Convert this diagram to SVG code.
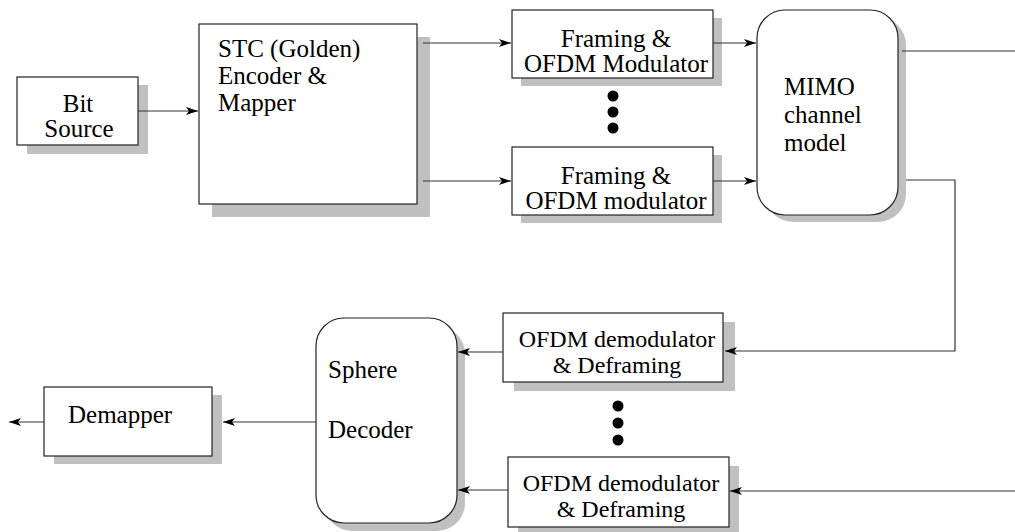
<svg xmlns="http://www.w3.org/2000/svg" width="1015" height="532" viewBox="0 0 1015 532">
<style>
.box{fill:#fff;stroke:#222;stroke-width:1.2}
.sh{fill:#c0c0c0;stroke:none}
text{font-family:'Liberation Serif','Times New Roman','DejaVu Serif',serif;font-size:25px;fill:#000}
.c{text-anchor:middle}
.s{font-size:24px}
.ln{fill:none;stroke:#333;stroke-width:1.2}
.dot{fill:#000}
</style>
<defs>
<marker id="ah" viewBox="0 0 12 8" refX="12" refY="4" markerWidth="12" markerHeight="8" markerUnits="userSpaceOnUse" orient="auto">
<path d="M0,0 L12,4 L0,8 L3,4 z" fill="#000"/>
</marker>
</defs>
<rect width="1015" height="532" fill="#fff"/>

<g id="bit-source">
<rect class="sh" x="27" y="85" width="121" height="69"/>
<rect class="box" x="17" y="77" width="121" height="68"/>
<text class="c" x="78" y="112">Bit</text>
<text class="c" x="79" y="137">Source</text>
</g>

<g id="stc-encoder">
<rect class="sh" x="212" y="37" width="218" height="180"/>
<rect class="box" x="199" y="24" width="218" height="180"/>
<text x="218" y="57">STC (Golden)</text>
<text x="218" y="84">Encoder &amp;</text>
<text x="218" y="111">Mapper</text>
</g>

<g id="framing-1">
<rect class="sh" x="521" y="18" width="201" height="68"/>
<rect class="box" x="512" y="10" width="201" height="68"/>
<text class="c" x="616" y="47">Framing &amp;</text>
<text class="c" x="616" y="72">OFDM Modulator</text>
</g>

<g id="tx-dots">
<circle class="dot" cx="613" cy="96" r="5.5"/>
<circle class="dot" cx="613" cy="112" r="5.5"/>
<circle class="dot" cx="613" cy="128" r="5.5"/>
</g>

<g id="framing-2">
<rect class="sh" x="521" y="155" width="201" height="68"/>
<rect class="box" x="512" y="147" width="201" height="68"/>
<text class="c" x="616" y="184">Framing &amp;</text>
<text class="c" x="616" y="209">OFDM modulator</text>
</g>

<g id="mimo-channel">
<rect class="sh" x="765" y="17" width="141" height="205" rx="28" ry="28"/>
<rect class="box" x="757" y="10" width="141" height="205" rx="28" ry="28"/>
<text x="784" y="95">MIMO</text>
<text x="784" y="123">channel</text>
<text x="784" y="151">model</text>
</g>

<g id="ofdm-demod-1">
<rect class="sh" x="514" y="322" width="221" height="69"/>
<rect class="box" x="503" y="313" width="220" height="69"/>
<text class="c s" x="617" y="347">OFDM demodulator</text>
<text class="c s" x="617" y="373">&amp; Deframing</text>
</g>

<g id="rx-dots">
<circle class="dot" cx="618" cy="406" r="5.5"/>
<circle class="dot" cx="618" cy="423" r="5.5"/>
<circle class="dot" cx="618" cy="440" r="5.5"/>
</g>

<g id="ofdm-demod-2">
<rect class="sh" x="518" y="466" width="221" height="70"/>
<rect class="box" x="508" y="457" width="221" height="70"/>
<text class="c s" x="621" y="491">OFDM demodulator</text>
<text class="c s" x="621" y="517">&amp; Deframing</text>
</g>

<g id="sphere-decoder">
<rect class="sh" x="324" y="326" width="141" height="205" rx="28" ry="28"/>
<rect class="box" x="316" y="318" width="141" height="205" rx="28" ry="28"/>
<text x="328" y="378">Sphere</text>
<text x="328" y="438">Decoder</text>
</g>

<g id="demapper">
<rect class="sh" x="54" y="395" width="168" height="69"/>
<rect class="box" x="44" y="387" width="168" height="69"/>
<text x="68" y="423">Demapper</text>
</g>

<g id="connectors">
<line class="ln" x1="138" y1="111" x2="198" y2="111" marker-end="url(#ah)"/>
<line class="ln" x1="423" y1="43" x2="511" y2="43" marker-end="url(#ah)"/>
<line class="ln" x1="423" y1="181" x2="511" y2="181" marker-end="url(#ah)"/>
<line class="ln" x1="713" y1="43" x2="756" y2="43" marker-end="url(#ah)"/>
<line class="ln" x1="713" y1="181" x2="756" y2="181" marker-end="url(#ah)"/>
<line class="ln" x1="902" y1="51" x2="1015" y2="51"/>
<polyline class="ln" points="906,180 955,180 955,351 725,351" marker-end="url(#ah)"/>
<line class="ln" x1="1015" y1="491" x2="730" y2="491" marker-end="url(#ah)"/>
<line class="ln" x1="503" y1="352" x2="458" y2="352" marker-end="url(#ah)"/>
<line class="ln" x1="508" y1="490" x2="458" y2="490" marker-end="url(#ah)"/>
<line class="ln" x1="316" y1="422" x2="223" y2="422" marker-end="url(#ah)"/>
<line class="ln" x1="44" y1="422" x2="9" y2="422" marker-end="url(#ah)"/>
</g>
</svg>
